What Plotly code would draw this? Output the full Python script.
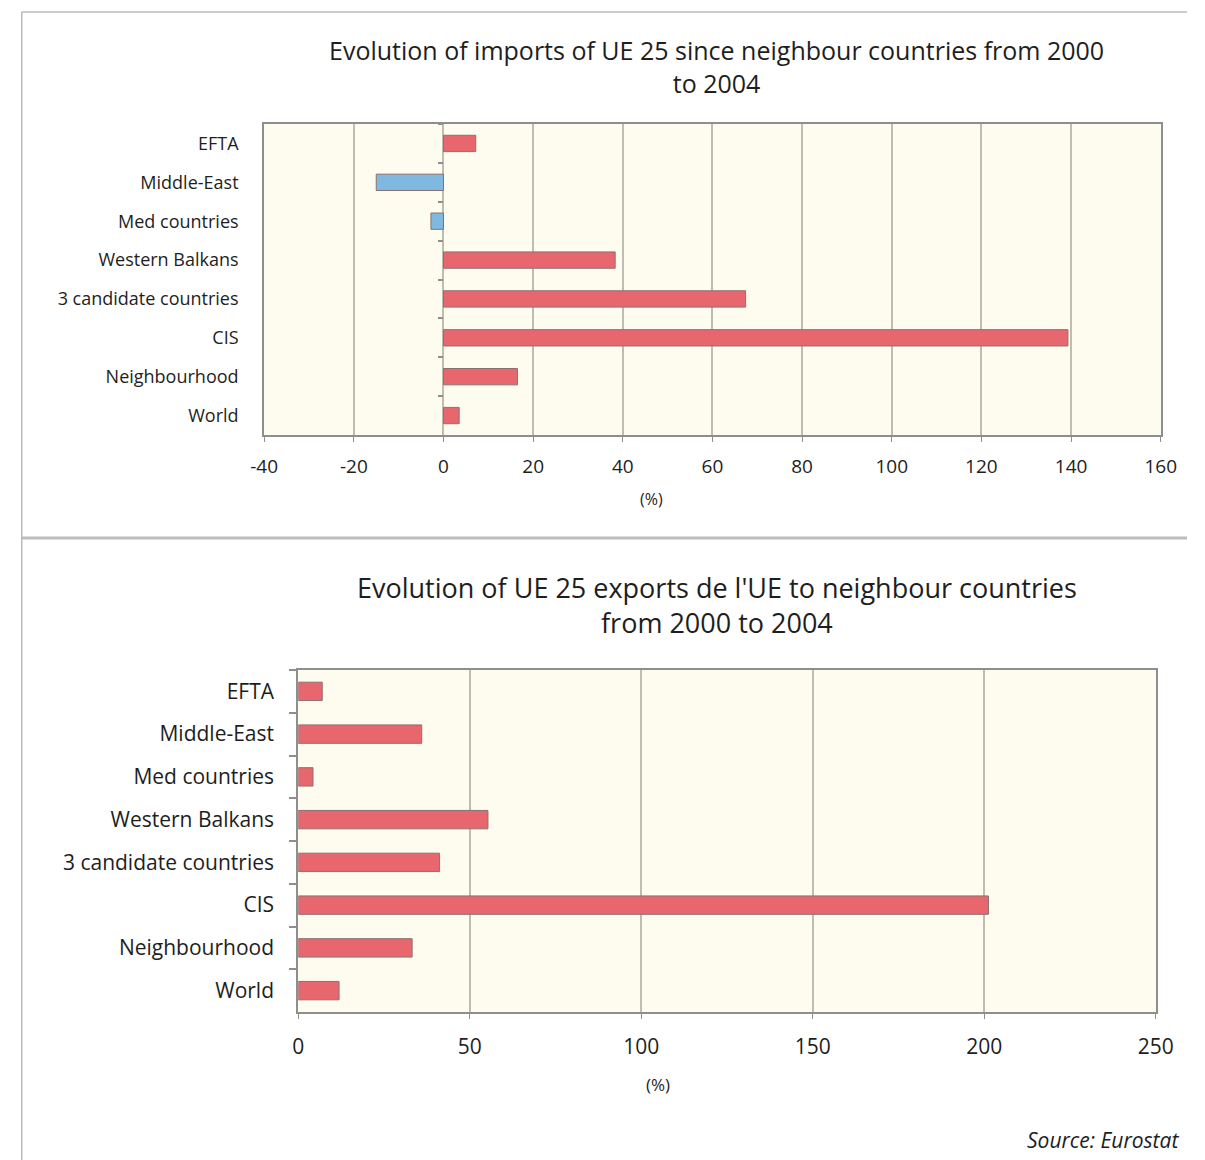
import plotly.graph_objects as go

# ---------------- data ----------------
categories = ["EFTA", "Middle-East", "Med countries", "Western Balkans",
              "3 candidate countries", "CIS", "Neighbourhood", "World"]
imports_change = [7.2, -15.0, -2.8, 38.3, 67.4, 139.3, 16.5, 3.5]
exports_change = [7.0, 36.0, 4.3, 55.3, 41.2, 201.2, 33.2, 11.9]

title_imports = "Evolution of imports of UE 25 since neighbour countries from 2000<br>to 2004"
title_exports = "Evolution of UE 25 exports de l'UE to neighbour countries<br>from 2000 to 2004"
axis_unit = "(%)"
source_text = "Source: Eurostat"

imports_ticks = list(range(-40, 161, 20))
exports_ticks = list(range(0, 251, 50))

# ---------------- style ----------------
W, H = 1205, 1160
RED = "#E8676E"
BLUE = "#7DB9E1"
PLOT_BG = "#FEFCEE"
GRID = "#BDBDB2"
AXIS = "#8E8E8E"
TXT = "#1E1E1E"
FONT = "Open Sans"


def px(x):
    return x / W


def py(y):
    return 1 - y / H


n = len(categories)
yrange = [n - 0.5, -0.5]

fig = go.Figure()

fig.add_trace(go.Bar(
    x=imports_change, y=categories, orientation="h",
    marker=dict(color=[RED if v >= 0 else BLUE for v in imports_change],
                line=dict(color="#8C7070", width=1)),
    width=0.42, xaxis="x", yaxis="y", showlegend=False, hoverinfo="x+y",
))
# helper trace for the category tick marks drawn at the zero line
fig.add_trace(go.Scatter(
    x=imports_change, y=categories, mode="markers",
    marker=dict(opacity=0), xaxis="x", yaxis="y3",
    showlegend=False, hoverinfo="skip",
))
fig.add_trace(go.Bar(
    x=exports_change, y=categories, orientation="h",
    marker=dict(color=RED, line=dict(color="#8C7070", width=1)),
    width=0.43, xaxis="x2", yaxis="y2", showlegend=False, hoverinfo="x+y",
))

# plot areas (pixels)
top_x0, top_x1, top_y0, top_y1 = 257, 1178, 124, 435
bot_x0, bot_x1, bot_y0, bot_y1 = 292, 1173, 670, 1012

common_x = dict(showgrid=True, gridcolor=GRID, gridwidth=1.5, zeroline=False,
                showline=True, linecolor=AXIS, linewidth=2, mirror=True,
                ticks="outside", ticklen=5, tickcolor=AXIS, tickwidth=1,
                color=TXT)

fig.update_layout(
    width=W, height=H,
    margin=dict(l=0, r=0, t=0, b=0),
    paper_bgcolor="white",
    plot_bgcolor=PLOT_BG,
    font=dict(family=FONT, color=TXT),
    xaxis=dict(domain=[px(top_x0), px(top_x1)], anchor="y",
               range=[imports_ticks[0], imports_ticks[-1]],
               tickvals=imports_ticks, ticktext=[str(t) for t in imports_ticks],
               tickfont=dict(size=19), ticklabelstandoff=8, **common_x),
    yaxis=dict(domain=[py(top_y1), py(top_y0)], anchor="x",
               type="category", categoryorder="array", categoryarray=categories,
               range=yrange, showgrid=False, zeroline=False,
               showline=True, linecolor=AXIS, linewidth=2, mirror=True,
               ticks="", tickfont=dict(size=18), ticklabelstandoff=20,
               color=TXT),
    yaxis3=dict(overlaying="y", anchor="free",
                position=px(top_x0) + (px(top_x1) - px(top_x0)) * (0 - imports_ticks[0]) / (imports_ticks[-1] - imports_ticks[0]),
                type="category", categoryorder="array", categoryarray=categories,
                range=yrange, showgrid=False, zeroline=False, showline=False,
                ticks="outside", tickson="boundaries", ticklen=5,
                tickcolor=AXIS, tickwidth=1.5, showticklabels=False),
    xaxis2=dict(domain=[px(bot_x0), px(bot_x1)], anchor="y2",
                range=[exports_ticks[0], exports_ticks[-1]],
                tickvals=exports_ticks, ticktext=[str(t) for t in exports_ticks],
                tickfont=dict(size=21), ticklabelstandoff=10, **common_x),
    yaxis2=dict(domain=[py(bot_y1), py(bot_y0)], anchor="x2",
                type="category", categoryorder="array", categoryarray=categories,
                range=yrange, showgrid=False, zeroline=False,
                showline=True, linecolor=AXIS, linewidth=2, mirror=True,
                ticks="outside", tickson="boundaries", ticklen=7,
                tickcolor=AXIS, tickwidth=1.5,
                tickfont=dict(size=21), ticklabelstandoff=18, color=TXT),
    bargap=0.55,
)

# titles and texts
fig.add_annotation(text=title_imports, x=px(722), y=py(66), xref="paper", yref="paper",
                   showarrow=False, font=dict(size=25, color=TXT), align="center",
                   xanchor="center", yanchor="middle")
fig.add_annotation(text=title_exports, x=px(722), y=py(605), xref="paper", yref="paper",
                   showarrow=False, font=dict(size=27, color=TXT), align="center",
                   xanchor="center", yanchor="middle")
fig.add_annotation(text=axis_unit, x=px(655), y=py(499), xref="paper", yref="paper",
                   showarrow=False, font=dict(size=16, color=TXT),
                   xanchor="center", yanchor="middle")
fig.add_annotation(text=axis_unit, x=px(662), y=py(1084), xref="paper", yref="paper",
                   showarrow=False, font=dict(size=17, color=TXT),
                   xanchor="center", yanchor="middle")
fig.add_annotation(text="<i>" + source_text + "</i>", x=px(1199), y=py(1140),
                   xref="paper", yref="paper", showarrow=False,
                   font=dict(size=21, color=TXT), xanchor="right", yanchor="middle")

# frame lines
frame = dict(type="line", xref="paper", yref="paper", layer="above")
fig.add_shape(**frame, x0=px(8), x1=1, y0=py(12), y1=py(12), line=dict(color="#BBBBBB", width=1.5))
fig.add_shape(**frame, x0=px(8), x1=px(8), y0=py(12), y1=0, line=dict(color="#BBBBBB", width=1.5))
fig.add_shape(**frame, x0=px(8), x1=1, y0=py(538), y1=py(538), line=dict(color="#BDBDBD", width=3))

fig.write_html("out.html",
               config={"displayModeBar": False},
               post_script="document.body.style.margin='0';document.body.style.overflow='hidden';")
